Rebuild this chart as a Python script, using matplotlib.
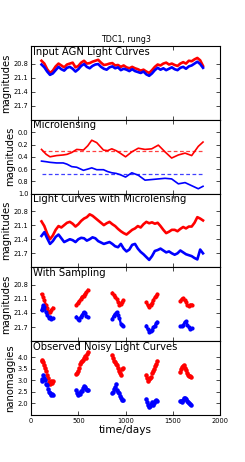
import numpy as np
import matplotlib
matplotlib.use('Agg')
import matplotlib.pyplot as plt

# common time grid for the continuous curves (days)
t = [110, 140, 170, 200, 230, 260, 290, 320, 350, 380, 410, 440, 470, 500, 530,
     560, 590, 620, 650, 680, 710, 740, 770, 800, 830, 860, 890, 920, 950, 980,
     1010, 1040, 1070, 1100, 1130, 1160, 1190, 1220, 1250, 1280, 1310, 1340, 1370,
     1400, 1430, 1460, 1490, 1520, 1550, 1580, 1610, 1640, 1670, 1700, 1730, 1760,
     1790, 1820]

# input AGN light curves (mag)
agn_red = [20.74, 20.80, 20.92, 21.00, 20.95, 20.86, 20.80, 20.84, 20.88, 20.82,
           20.80, 20.78, 20.88, 20.85, 20.78, 20.74, 20.80, 20.79, 20.76, 20.74,
           20.72, 20.78, 20.83, 20.82, 20.80, 20.79, 20.84, 20.83, 20.87, 20.84,
           20.88, 20.90, 20.87, 20.90, 20.92, 20.95, 20.93, 20.97, 21.00, 20.94,
           20.87, 20.82, 20.84, 20.80, 20.78, 20.82, 20.80, 20.83, 20.85, 20.80,
           20.77, 20.80, 20.74, 20.75, 20.71, 20.68, 20.73, 20.85]
agn_blue = [20.82, 20.88, 20.97, 21.04, 21.01, 20.94, 20.87, 20.92, 20.95, 20.89,
            20.87, 20.91, 20.97, 20.92, 20.85, 20.81, 20.87, 20.90, 20.85, 20.82,
            20.81, 20.87, 20.91, 20.93, 20.88, 20.86, 20.90, 20.88, 20.94, 20.91,
            20.93, 20.96, 20.92, 20.96, 20.98, 21.00, 20.97, 21.03, 21.06, 21.01,
            20.94, 20.89, 20.93, 20.90, 20.94, 20.91, 20.88, 20.92, 20.94, 20.89,
            20.87, 20.91, 20.86, 20.84, 20.80, 20.76, 20.81, 20.89]

# microlensing (mag)
ml_t = [110, 160, 200, 270, 340, 380, 430, 483, 554, 600, 642, 695, 766, 810, 854,
        900, 942, 1000, 1066, 1135, 1206, 1277, 1347, 1418, 1488, 1559, 1630, 1700,
        1770, 1820]
ml_red = [0.28, 0.36, 0.40, 0.38, 0.37, 0.36, 0.33, 0.28, 0.29, 0.22, 0.13, 0.17,
          0.29, 0.30, 0.27, 0.30, 0.34, 0.40, 0.32, 0.26, 0.28, 0.27, 0.21, 0.32,
          0.42, 0.37, 0.34, 0.38, 0.23, 0.16]
ml_blue = [0.47, 0.48, 0.49, 0.50, 0.50, 0.52, 0.56, 0.57, 0.62, 0.60, 0.58, 0.61,
           0.61, 0.64, 0.66, 0.67, 0.69, 0.73, 0.66, 0.70, 0.78, 0.77, 0.76, 0.75,
           0.76, 0.84, 0.82, 0.87, 0.92, 0.88]
ml_red_mean = 0.30
ml_blue_mean = 0.68

# light curves with microlensing (mag)
lens_red = [21.02, 21.12, 21.28, 21.40, 21.32, 21.20, 21.12, 21.15, 21.10, 21.05,
            21.03, 21.07, 21.13, 21.08, 21.01, 20.96, 20.93, 20.87, 20.90, 20.95,
            21.00, 21.05, 21.10, 21.06, 21.03, 21.08, 21.12, 21.18, 21.23, 21.27,
            21.30, 21.25, 21.20, 21.17, 21.12, 21.15, 21.08, 21.03, 21.06, 21.04,
            21.07, 21.05, 21.12, 21.20, 21.27, 21.24, 21.20, 21.20, 21.23, 21.18,
            21.14, 21.17, 21.13, 21.13, 21.05, 20.93, 20.96, 21.00]
lens_blue = [21.33, 21.25, 21.38, 21.50, 21.44, 21.35, 21.30, 21.38, 21.46, 21.43,
             21.40, 21.42, 21.46, 21.40, 21.37, 21.38, 21.43, 21.40, 21.36, 21.38,
             21.44, 21.47, 21.50, 21.48, 21.46, 21.50, 21.55, 21.57, 21.50, 21.60,
             21.66, 21.62, 21.52, 21.50, 21.60, 21.67, 21.72, 21.78, 21.84, 21.76,
             21.65, 21.63, 21.60, 21.64, 21.68, 21.66, 21.70, 21.73, 21.70, 21.64,
             21.68, 21.72, 21.74, 21.76, 21.80, 21.83, 21.62, 21.70]

# sampled seasons (mag)
samp_t = [[110, 125, 140, 155, 170, 185, 200, 215, 230],
          [480, 495, 510, 525, 540, 555, 570, 585, 600],
          [860, 875, 890, 905, 920, 935, 950, 965, 975],
          [1220, 1235, 1250, 1265, 1280, 1295, 1310, 1325, 1335],
          [1580, 1595, 1610, 1625, 1640, 1655, 1670, 1685, 1700]]
samp_red = [[21.00, 21.05, 21.13, 21.22, 21.30, 21.38, 21.38, 21.33, 21.29],
            [21.22, 21.18, 21.15, 21.10, 21.05, 21.03, 20.99, 20.96, 20.91],
            [20.97, 21.02, 21.06, 21.10, 21.16, 21.22, 21.20, 21.16, 21.13],
            [21.17, 21.24, 21.28, 21.23, 21.19, 21.12, 21.07, 21.03, 21.00],
            [21.14, 21.10, 21.08, 21.13, 21.16, 21.24, 21.25, 21.22, 21.22]]
samp_blue = [[21.34, 21.24, 21.28, 21.38, 21.44, 21.50, 21.48, 21.53, 21.51],
             [21.48, 21.52, 21.54, 21.48, 21.44, 21.38, 21.40, 21.47, 21.49],
             [21.52, 21.46, 21.42, 21.38, 21.45, 21.51, 21.63, 21.66, 21.67],
             [21.67, 21.75, 21.80, 21.78, 21.76, 21.70, 21.67, 21.62, 21.59],
             [21.68, 21.68, 21.66, 21.60, 21.58, 21.66, 21.70, 21.74, 21.73]]

# observed noisy fluxes (nanomaggies)
obs_t = [[110, 120, 130, 140, 150, 160, 170, 180, 190, 200, 210, 220, 230],
         [480, 490, 500, 510, 520, 530, 540, 550, 560, 570, 580, 590, 600],
         [860, 870, 880, 890, 900, 910, 920, 930, 940, 950, 960, 970],
         [1220, 1230, 1240, 1250, 1260, 1270, 1280, 1290, 1300, 1310, 1320, 1330],
         [1580, 1590, 1600, 1610, 1620, 1630, 1640, 1650, 1660, 1670, 1680, 1690]]
obs_red = [[3.90, 3.82, 3.78, 3.65, 3.55, 3.42, 3.25, 3.10, 2.92, 2.85, 2.95, 2.90, 2.96],
           [3.28, 3.32, 3.40, 3.55, 3.70, 3.78, 3.85, 3.90, 3.95, 4.05, 3.98, 4.15, 4.25],
           [4.10, 3.95, 3.82, 3.80, 3.72, 3.65, 3.55, 3.40, 3.30, 3.25, 3.48, 3.55],
           [3.25, 3.10, 2.98, 3.05, 3.12, 3.15, 3.30, 3.40, 3.50, 3.62, 3.70, 3.82],
           [3.38, 3.50, 3.58, 3.62, 3.68, 3.55, 3.45, 3.30, 3.22, 3.18, 3.20, 3.15]]
obs_blue = [[2.95, 3.05, 3.25, 3.10, 3.02, 2.85, 2.80, 2.62, 2.50, 2.45, 2.38, 2.42, 2.36],
            [2.60, 2.45, 2.38, 2.45, 2.42, 2.52, 2.55, 2.68, 2.75, 2.70, 2.62, 2.58, 2.60],
            [2.45, 2.50, 2.62, 2.72, 2.82, 2.60, 2.50, 2.45, 2.32, 2.22, 2.15, 2.14],
            [2.20, 2.05, 1.95, 1.86, 1.90, 1.98, 2.05, 1.95, 2.03, 2.12, 2.15, 2.10],
            [2.10, 2.12, 2.08, 2.15, 2.22, 2.25, 2.18, 2.12, 2.05, 2.00, 1.98, 1.95]]

plt.rcParams['font.family'] = 'DejaVu Sans'
fig, axes = plt.subplots(5, 1, sharex=True, figsize=(2.45, 4.62), dpi=100)
fig.subplots_adjust(left=0.127, right=0.898, top=0.9, bottom=0.102, hspace=0)

lab_fs = 7.2
tick_fs = 4.8

ax1, ax2, ax3, ax4, ax5 = axes

ax1.plot(t, agn_red, 'r-', lw=1.9)
ax1.plot(t, agn_blue, 'b-', lw=1.9)

ax2.plot(ml_t, ml_red, 'r-', lw=1.2)
ax2.plot(ml_t, ml_blue, 'b-', lw=1.2)
ax2.plot([t[0], t[-1]], [ml_red_mean] * 2, 'r--', lw=0.9, dashes=(3, 2), alpha=0.75)
ax2.plot([t[0], t[-1]], [ml_blue_mean] * 2, 'b--', lw=0.9, dashes=(3, 2), alpha=0.75)

ax3.plot(t, lens_red, 'r-', lw=1.9)
ax3.plot(t, lens_blue, 'b-', lw=1.9)

for i in range(len(samp_t)):
    ax4.plot(samp_t[i], samp_red[i], 'r.-', lw=1.7, ms=4)
    ax4.plot(samp_t[i], samp_blue[i], 'b.-', lw=1.7, ms=4)

for i in range(len(obs_t)):
    ax5.plot(obs_t[i], obs_red[i], 'r.', ms=4.5)
    ax5.plot(obs_t[i], obs_blue[i], 'b.', ms=4.5)

mag_ticks = [20.8, 21.1, 21.4, 21.7]
for ax in (ax1, ax3, ax4):
    ax.set_ylim(22.0, 20.43)
    ax.set_yticks(mag_ticks)
ax2.set_ylim(1.0, -0.2)
ax2.set_yticks([0.0, 0.2, 0.4, 0.6, 0.8, 1.0])
ax5.set_ylim(1.5, 4.7)
ax5.set_yticks([2.0, 2.5, 3.0, 3.5, 4.0])

titles = ['Input AGN Light Curves', 'Microlensing', 'Light Curves with Microlensing',
          'With Sampling', 'Observed Noisy Light Curves']
for ax, txt in zip(axes, titles):
    ax.text(0.008, 0.995, txt, transform=ax.transAxes, ha='left', va='top', fontsize=lab_fs)
    ax.tick_params(direction='in', top=True, right=True, labelsize=tick_fs,
                   length=3, width=0.5, pad=2)
    for s in ax.spines.values():
        s.set_linewidth(0.8)
    ax.set_ylabel('nanomaggies' if ax is ax5 else 'magnitudes', fontsize=lab_fs, labelpad=2)

ax5.set_xlim(0, 2000)
ax5.set_xticks([0, 500, 1000, 1500, 2000])
ax5.set_xlabel('time/days', fontsize=lab_fs + 0.5, labelpad=1)
ax1.set_title('TDC1, rung3', fontsize=5.8, pad=3)

fig.savefig('out.png', dpi=100, facecolor='white')
